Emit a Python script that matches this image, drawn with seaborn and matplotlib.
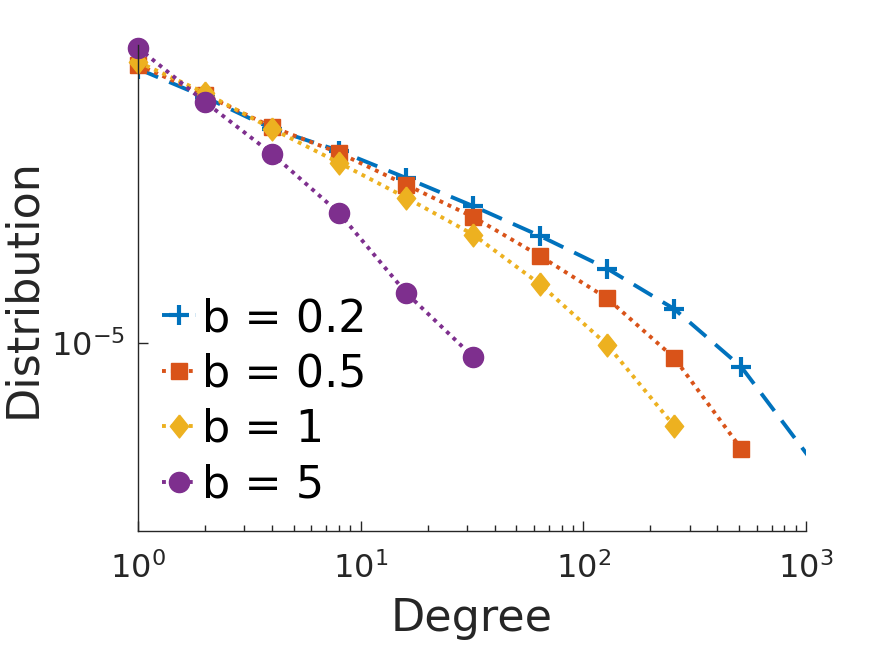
import matplotlib
matplotlib.use("Agg")
import matplotlib.pyplot as plt
import seaborn as sns
from matplotlib.ticker import LogLocator, NullLocator, LogFormatterMathtext

# values (log-binned degree distribution)
degree = [1, 2, 4, 8, 16, 32, 64, 128, 256, 512, 1024]
dist_b02 = [6.07e-5, 5.04e-5, 4.09e-5, 3.54e-5, 2.96e-5, 2.46e-5, 2.02e-5,
            1.63e-5, 1.25e-5, 8.54e-6, 4.75e-6]
dist_b05 = [6.23e-5, 5.11e-5, 4.14e-5, 3.49e-5, 2.83e-5, 2.29e-5, 1.77e-5,
            1.34e-5, 9.06e-6, 4.98e-6]
dist_b1 = [6.35e-5, 5.18e-5, 4.09e-5, 3.27e-5, 2.60e-5, 2.04e-5, 1.47e-5,
           9.87e-6, 5.79e-6]
dist_b5 = [6.97e-5, 4.88e-5, 3.47e-5, 2.35e-5, 1.39e-5, 9.12e-6]

labels = ["b = 0.2", "b = 0.5", "b = 1", "b = 5"]
colors = ["#0072BD", "#D95319", "#EDB120", "#7E2F8E"]

sns.set_theme(style="ticks")
plt.rcParams["font.family"] = ["DejaVu Sans"]

fig = plt.figure(figsize=(8.91, 6.45), dpi=100)
ax = fig.add_axes([138 / 891, 1 - 531 / 645, 668 / 891, 486 / 645])

lw = 2.8
dotted = (0, (1, 1.3))
dashed = (0, (5.6, 3.1))
diamond = [(0, 1), (0.8, 0), (0, -1), (-0.8, 0), (0, 1)]

# b = 0.2 : dashed line, plus markers (last point only continues the line)
sns.lineplot(x=degree, y=dist_b02, ax=ax, color=colors[0], linestyle=dashed,
             linewidth=lw, marker="+", markersize=15, markeredgewidth=3,
             markeredgecolor=colors[0], markevery=list(range(10)),
             label=labels[0])
# b = 0.5 : dotted line, squares
sns.lineplot(x=degree[:10], y=dist_b05, ax=ax, color=colors[1], linestyle=dotted,
             linewidth=lw, marker="s", markersize=12, markeredgewidth=1,
             markeredgecolor=colors[1], label=labels[1], clip_on=False)
# b = 1 : dotted line, diamonds
sns.lineplot(x=degree[:9], y=dist_b1, ax=ax, color=colors[2], linestyle=dotted,
             linewidth=lw, marker=diamond, markersize=16.5, markeredgewidth=1,
             markeredgecolor=colors[2], label=labels[2], clip_on=False)
# b = 5 : dotted line, circles
sns.lineplot(x=degree[:6], y=dist_b5, ax=ax, color=colors[3], linestyle=dotted,
             linewidth=lw, marker="o", markersize=14.5, markeredgewidth=1,
             markeredgecolor=colors[3], label=labels[3], clip_on=False)

ax.set_xscale("log")
ax.set_yscale("log")
ax.set_xlim(1, 1000)
ax.set_ylim(2.90e-6, 7.10e-5)

ax.xaxis.set_major_locator(LogLocator(base=10))
ax.xaxis.set_minor_locator(LogLocator(base=10, subs=range(2, 10)))
ax.xaxis.set_major_formatter(LogFormatterMathtext())
ax.yaxis.set_major_locator(LogLocator(base=10))
ax.yaxis.set_minor_locator(NullLocator())
ax.yaxis.set_major_formatter(LogFormatterMathtext())

sns.despine(ax=ax)
for side in ["left", "bottom"]:
    ax.spines[side].set_color("#262626")
    ax.spines[side].set_linewidth(1.0)

ax.tick_params(axis="both", which="major", direction="in", length=7, width=1,
               color="#262626", labelcolor="#262626", labelsize=23)
ax.tick_params(axis="x", which="major", pad=15)
ax.tick_params(axis="y", which="major", pad=9)
ax.tick_params(axis="x", which="minor", direction="in", length=4, width=1,
               color="#262626")

ax.set_xlabel("Degree", fontsize=32, color="#262626", labelpad=9)
ax.set_ylabel("Distribution", fontsize=32, color="#262626", labelpad=5)

ax.legend(loc="upper left", bbox_to_anchor=(162 / 891, 1 - 297 / 645),
          bbox_transform=fig.transFigure, frameon=False, fontsize=32,
          handlelength=0.77, handletextpad=0.14, labelspacing=0.28,
          borderpad=0, borderaxespad=0, labelcolor="black")

fig.savefig("out.png", dpi=100)
